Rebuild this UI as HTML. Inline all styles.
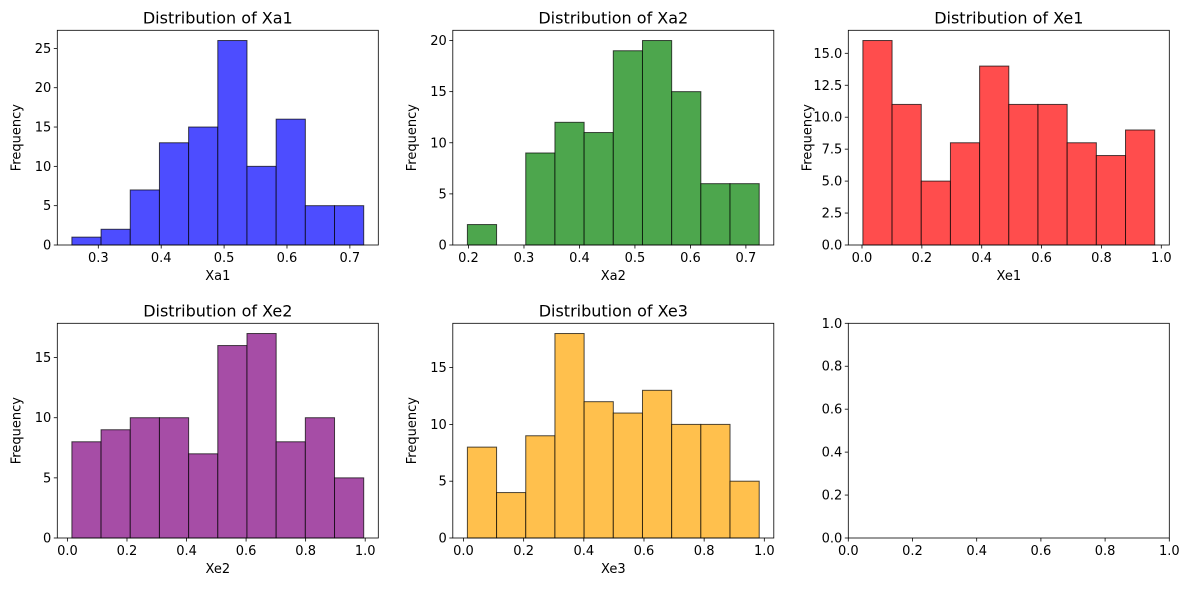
<!DOCTYPE html>
<html><head><meta charset="utf-8"><style>
html,body{margin:0;padding:0;background:#fff}
svg{display:block;font-family:"DejaVu Sans","Liberation Sans",sans-serif}
</style></head><body>
<svg id="fig" width="1189" height="590" xmlns="http://www.w3.org/2000/svg"></svg>
<script>
const names = ["Xa1","Xa2","Xe1","Xe2","Xe3"];
const countsXa1 = [1,2,7,13,15,26,10,16,5,5];
const countsXa2 = [2,0,9,12,11,19,20,15,6,6];
const countsXe1 = [16,11,5,8,14,11,11,8,7,9];
const countsXe2 = [8,9,10,10,7,16,17,8,10,5];
const countsXe3 = [8,4,9,18,12,11,13,10,10,5];
const mins = [0.258,0.198,0.003,0.015,0.013];
const maxs = [0.722,0.724,0.978,0.995,0.983];
const xTicksA = [0.3,0.4,0.5,0.6,0.7];
const xTicksB = [0.2,0.3,0.4,0.5,0.6,0.7];
const xTicksE = [0,0.2,0.4,0.6,0.8,1.0];
const yTicksXa1 = [0,5,10,15,20,25];
const yTicksXa2 = [0,5,10,15,20];
const yTicksXe1 = [0,2.5,5,7.5,10,12.5,15];
const yTicksXe2 = [0,5,10,15];
const yTicksXe3 = [0,5,10,15];
const unitTicks = [0,0.2,0.4,0.6,0.8,1.0];

const allCounts=[countsXa1,countsXa2,countsXe1,countsXe2,countsXe3];
const xt=[xTicksA,xTicksB,xTicksE,xTicksE,xTicksE];
const yt=[yTicksXa1,yTicksXa2,yTicksXe1,yTicksXe2,yTicksXe3];
const ydec=[0,0,1,0,0];
const colors=["#4d4dff","#4da64d","#ff4d4d","#a64da6","#ffc04d"];
const NS="http://www.w3.org/2000/svg";
const svg=document.getElementById('fig');
function el(tag,attrs,parent){const e=document.createElementNS(NS,tag);for(const k in attrs)e.setAttribute(k,attrs[k]);(parent||svg).appendChild(e);return e;}
const lefts=[57.3,452.8,848.3], tops=[30.3,323.3], W=321, H=214.7;
function fmt(v,d){return v.toFixed(d);}
function panel(idx,col,row,counts,x0,x1,y1,xticks,yticks,xd,yd,title,xlabel,color){
  const L=lefts[col],T=tops[row];
  const g=el('g',{});
  
  
  const sx=v=>L+(v-x0)/(x1-x0)*W, sy=v=>T+H-v/y1*H;
  if(counts){
    const n=counts.length, bw=(maxs[idx]-mins[idx])/n;
    counts.forEach((c,i)=>{
      const a=sx(mins[idx]+i*bw), b=sx(mins[idx]+(i+1)*bw);
      const r=el('rect',{x:a,y:sy(c),width:b-a,height:sy(0)-sy(c),fill:color,stroke:"rgba(0,0,0,0.7)","stroke-width":1},g);
      
      
    });
  }
  el('rect',{x:L,y:T,width:W,height:H,fill:"none",stroke:"#000","stroke-width":0.8},g);
  xticks.forEach(v=>{const x=sx(v);el('line',{x1:x,x2:x,y1:T+H,y2:T+H+3.5,stroke:"#000","stroke-width":0.8},g);
    const t=el('text',{x:x,y:T+H+17,"font-size":"13px","text-anchor":"middle",fill:"#000"},g);t.textContent=fmt(v,xd);
    });
  yticks.forEach(v=>{const y=sy(v);el('line',{x1:L-3.5,x2:L,y1:y,y2:y,stroke:"#000","stroke-width":0.8},g);
    const t=el('text',{x:L-6,y:y+4.5,"font-size":"13px","text-anchor":"end",fill:"#000"},g);t.textContent=fmt(v,yd);
    });
  if(title){
    const t=el('text',{x:L+W/2,y:T-7,"font-size":"16px","text-anchor":"middle"},g);t.textContent=title;
    
    const xl=el('text',{x:L+W/2,y:T+H+35,"font-size":"13px","text-anchor":"middle"},g);xl.textContent=xlabel;
    
    const yx=L-37, yy=T+H/2;
    const yl=el('text',{x:yx,y:yy,"font-size":"13px","text-anchor":"middle",transform:`rotate(-90 ${yx} ${yy})`},g);yl.textContent="Frequency";
    
  }
}
for(let i=0;i<5;i++){
  const r=maxs[i]-mins[i];
  const x0=mins[i]-0.05*r,x1=maxs[i]+0.05*r;
  const y1=Math.max(...allCounts[i])*1.05;
  panel(i,i%3,Math.floor(i/3),allCounts[i],x0,x1,y1,xt[i],yt[i],1,ydec[i],"Distribution of "+names[i],names[i],colors[i]);
}
panel(5,2,1,null,0,1,1,unitTicks,unitTicks,1,1,null,"",null);
</script>
</body></html>
